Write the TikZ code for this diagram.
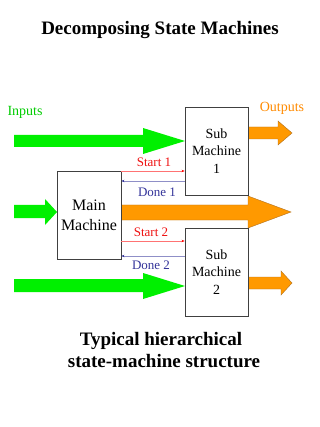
\documentclass[tikz,border=0pt]{standalone}
\usepackage{fontspec}
\setmainfont{Liberation Serif}
\usetikzlibrary{arrows.meta}
\definecolor{bgreen}{HTML}{00F000}
\definecolor{borange}{HTML}{FF9900}
\definecolor{oedge}{HTML}{B07020}
\definecolor{sred}{HTML}{EE1111}
\definecolor{dblue}{HTML}{333399}
\begin{document}
\begin{tikzpicture}[x=1pt,y=-1pt,
  machine/.style={draw=black!75,line width=0.8pt,fill=white,align=center,inner sep=0pt,
    font=\fontsize{14}{17.5}\selectfont},
  greenarrow/.style={fill=bgreen},
  orangearrow/.style={fill=borange,draw=oedge,line width=0.4pt},
  startline/.style={draw=red!55,line width=0.5pt,-{Stealth[length=3pt,width=2.5pt,color=red]}},
  doneline/.style={draw=dblue!55,line width=0.5pt,-{Stealth[length=3pt,width=2.5pt,color=dblue]}},
  sig/.style={font=\fontsize{13}{15}\selectfont,inner sep=0pt},
  bigtitle/.style={font=\fontsize{19}{23}\selectfont\bfseries,inner sep=0pt,anchor=base}]
\useasboundingbox (0,0) rectangle (320,427);

% title
\node[bigtitle] (title) at (160,35) {Decomposing State Machines};

% big arrows (behind boxes)
\fill[greenarrow] (14,135)--(143,135)--(143,128)--(185,141)--(143,154)--(143,147)--(14,147)--cycle;
\fill[greenarrow] (14,205)--(45,205)--(45,199)--(57,212)--(45,225)--(45,218)--(14,218)--cycle;
\fill[greenarrow] (14,279)--(143,279)--(143,273)--(185,286)--(143,299)--(143,292)--(14,292)--cycle;
\filldraw[orangearrow] (248,127)--(278,127)--(278,121)--(292,133)--(278,145)--(278,139)--(248,139)--cycle;
\filldraw[orangearrow] (121,205)--(248,205)--(248,196)--(291,212)--(248,228)--(248,220)--(121,220)--cycle;
\filldraw[orangearrow] (248,277)--(281,277)--(281,271)--(292,283)--(281,295)--(281,289)--(248,289)--cycle;

% boxes
\node[machine,minimum width=63pt,minimum height=88pt] (sm1) at (216.5,151) {Sub\\Machine\\1};
\node[machine,minimum width=63pt,minimum height=88pt] (sm2) at (216.5,272) {Sub\\Machine\\2};
\node[machine,minimum width=64pt,minimum height=88pt,font=\fontsize{16}{20}\selectfont] (main) at (89,215) {Main\\Machine};

% labels
\node[font=\fontsize{14}{16}\selectfont,text=bgreen!85!black,inner sep=0pt] (inputs) at (25,112) {Inputs};
\node[font=\fontsize{14}{16}\selectfont,text=borange!90!red,inner sep=0pt] (outputs) at (282,108) {Outputs};

% handshake lines
\draw[startline] (main.east |- {(0,171)}) -- (sm1.west |- {(0,171)});
\draw[doneline] (sm1.west |- {(0,181)}) -- (main.east |- {(0,181)});
\draw[startline] (main.east |- {(0,241)}) -- (sm2.west |- {(0,241)});
\draw[doneline] (sm2.west |- {(0,256)}) -- (main.east |- {(0,256)});
\node[sig,text=sred] (s1) at (154,162) {Start 1};
\node[sig,text=dblue] (d1) at (157,192) {Done 1};
\node[sig,text=sred] (s2) at (151,232) {Start 2};
\node[sig,text=dblue] (d2) at (151,265) {Done 2};

% caption
\node[bigtitle] (cap1) at (161,345) {Typical hierarchical};
\node[bigtitle] (cap2) at (164,367) {state-machine structure};
\end{tikzpicture}
\end{document}
